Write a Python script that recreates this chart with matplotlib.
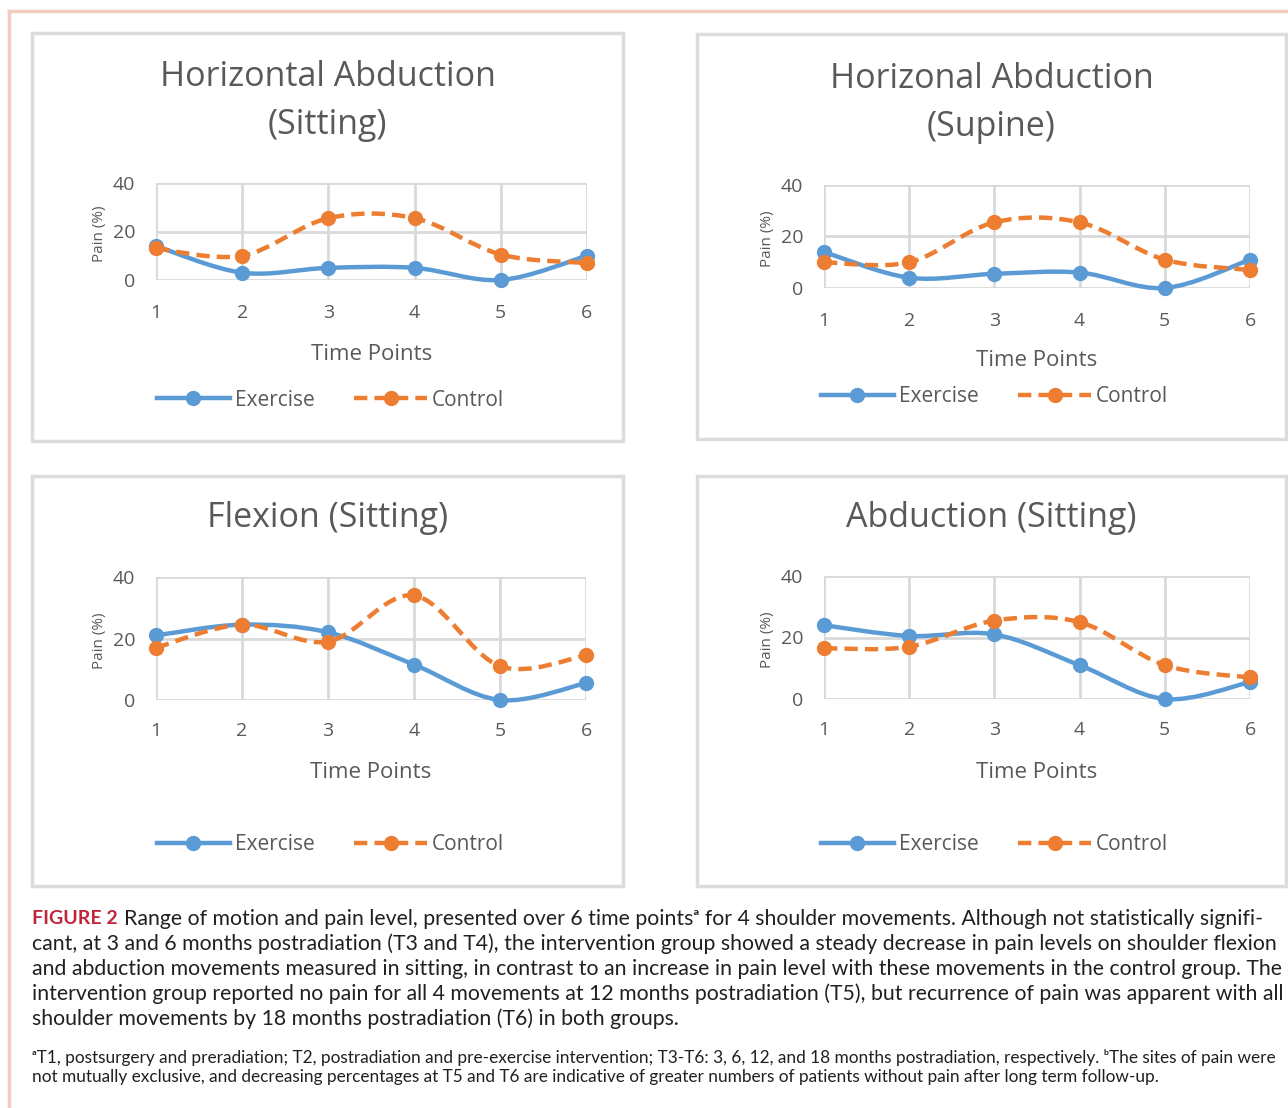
import numpy as np
import matplotlib
matplotlib.use("Agg")
import matplotlib.pyplot as plt
from matplotlib.path import Path
from matplotlib.patches import PathPatch, Rectangle
from matplotlib.lines import Line2D

# data (pain, %)
time_points = [1, 2, 3, 4, 5, 6]
titles = ["Horizontal Abduction\n(Sitting)", "Horizonal Abduction\n(Supine)",
          "Flexion (Sitting)", "Abduction (Sitting)"]
exercise_hs = [14, 3, 5, 5, 0, 10]
control_hs = [13, 10, 25.5, 25.5, 10.5, 7]
exercise_hsu = [14, 4, 5.5, 6, 0, 11]
control_hsu = [10, 10, 25.5, 25.5, 11, 7]
exercise_fl = [21, 24.5, 22, 11.5, 0, 5.5]
control_fl = [17, 24.5, 19, 34, 11, 14.5]
exercise_ab = [24, 20.5, 21, 11, 0, 5.5]
control_ab = [16.5, 17, 25.5, 25, 11, 7]

exercise = [exercise_hs, exercise_hsu, exercise_fl, exercise_ab]
control = [control_hs, control_hsu, control_fl, control_ab]

W, H = 1288, 1108
GRAY = "#595959"
BLUE = "#5B9BD5"
ORANGE = "#ED7D31"
GRID = "#d9d9d9"
FONT = "Open Sans"

fig = plt.figure(figsize=(W / 100, H / 100), dpi=100)


def fx(x):
    return x / W


def fy(y):
    return 1 - y / H


def smooth_path(xs, ys):
    # Excel-style smoothed line as cubic bezier segments
    pts = np.column_stack([xs, ys]).astype(float)
    verts = [pts[0]]
    codes = [Path.MOVETO]
    n = len(pts)
    for i in range(n - 1):
        p0 = pts[max(i - 1, 0)]
        p1 = pts[i]
        p2 = pts[i + 1]
        p3 = pts[min(i + 2, n - 1)]
        c1 = p1 + (p2 - p0) / 6
        c2 = p2 - (p3 - p1) / 6
        verts += [c1, c2, p2]
        codes += [Path.CURVE4] * 3
    return Path(verts, codes)


# page border
fig.add_artist(Line2D([fx(9), fx(9)], [fy(11), 0], color="#f2cbbf", lw=2.5))
fig.add_artist(Line2D([fx(9), 1], [fy(11), fy(11)], color="#f2cbbf", lw=2.5))

# panel layout in pixels: box, plot area, tick pads, text rows
panels = [
    dict(box=(32, 33, 623, 441), plot=(156, 183, 587, 280), title_y=(77, 125), xl_y=355, leg_y=400, xpad=17),
    dict(box=(697, 34, 1286, 439), plot=(824, 185, 1250, 288), title_y=(79, 127), xl_y=361, leg_y=397, xpad=17),
    dict(box=(32, 476, 623, 886), plot=(156, 577, 586, 700), title_y=(518,), xl_y=772, leg_y=845, xpad=16),
    dict(box=(697, 476, 1286, 886), plot=(824, 576, 1250, 699), title_y=(518,), xl_y=772, leg_y=845, xpad=16),
]

for k, p in enumerate(panels):
    x0, y0, x1, y1 = p["box"]
    fig.add_artist(Rectangle((fx(x0), fy(y1)), fx(x1 - x0), (y1 - y0) / H,
                             transform=fig.transFigure, fill=False,
                             edgecolor="#dcdcdc", lw=2.5))
    cx = (x0 + x1) / 2
    lines = titles[k].split("\n")
    for line, ty in zip(lines, p["title_y"]):
        fig.text(fx(cx), fy(ty), line, ha="center", va="center",
                 fontsize=24.5, color=GRAY, family=FONT)

    l, t, r, b = p["plot"]
    ax = fig.add_axes([fx(l), fy(b), (r - l) / W, (b - t) / H])
    ax.set_xlim(1, 6)
    ax.set_ylim(0, 40)
    ax.set_xticks(time_points)
    ax.set_yticks([0, 20, 40])
    ax.grid(True, color=GRID, lw=2)
    for s in ax.spines.values():
        s.set_visible(False)
    ax.tick_params(length=0, labelsize=14, labelcolor=GRAY)
    ax.tick_params(axis="y", pad=15)
    ax.tick_params(axis="x", pad=p["xpad"])
    for lab in ax.get_xticklabels() + ax.get_yticklabels():
        lab.set_family(FONT)

    ax.add_patch(PathPatch(smooth_path(time_points, exercise[k]), fill=False,
                           edgecolor=BLUE, lw=3.2, clip_on=False, zorder=3))
    ax.plot(time_points, exercise[k], ls="none", marker="o", ms=10,
            color=BLUE, clip_on=False, zorder=4)
    ax.add_patch(PathPatch(smooth_path(time_points, control[k]), fill=False,
                           edgecolor=ORANGE, lw=3.2, linestyle=(0, (3, 1.6)),
                           clip_on=False, zorder=5))
    ax.plot(time_points, control[k], ls="none", marker="o", ms=10,
            color=ORANGE, clip_on=False, zorder=6)

    # y label
    fig.text(fx(l - 56), fy((t + b) / 2 + 2), "Pain (%)", rotation=90,
             ha="center", va="center", fontsize=11, color=GRAY, family=FONT)
    # x label
    fig.text(fx((l + r) / 2), fy(p["xl_y"]), "Time Points", ha="center",
             va="center", fontsize=16, color=GRAY, family=FONT)

    h_ex = Line2D([], [], color=BLUE, lw=3.2, marker="o", ms=10)
    h_co = Line2D([], [], color=ORANGE, lw=3.2, ls=(0, (3, 1.6)), marker="o", ms=10)
    ax.legend([h_ex, h_co], ["Exercise", "Control"], ncol=2, frameon=False,
              loc="center", bbox_to_anchor=(fx(cx + 3), fy(p["leg_y"])),
              bbox_transform=fig.transFigure, handlelength=3.5,
              handletextpad=0.25, columnspacing=1.9,
              prop={"family": FONT, "size": 15}, labelcolor=GRAY)

# caption
CAP = ["Lato", "DejaVu Sans"]
fig.text(fx(32), fy(919), "FIGURE 2", ha="left", va="center", fontsize=14,
         color="#c0253a", fontweight="bold", family=CAP)
cap_lines = [
    "Range of motion and pain level, presented over 6 time points\u1d43 for 4 shoulder movements. Although not statistically signifi-",
    "cant, at 3 and 6 months postradiation (T3 and T4), the intervention group showed a steady decrease in pain levels on shoulder flexion",
    "and abduction movements measured in sitting, in contrast to an increase in pain level with these movements in the control group. The",
    "intervention group reported no pain for all 4 movements at 12 months postradiation (T5), but recurrence of pain was apparent with all",
    "shoulder movements by 18 months postradiation (T6) in both groups.",
]
cap_y = [919, 944, 969, 994, 1019]
for i, (txt, y) in enumerate(zip(cap_lines, cap_y)):
    xs = 124 if i == 0 else 32
    fig.text(fx(xs), fy(y), txt, ha="left", va="center", fontsize=15.3,
             color="#231f20", family=CAP)

foot = [
    "\u1d43T1, postsurgery and preradiation; T2, postradiation and pre-exercise intervention; T3-T6: 3, 6, 12, and 18 months postradiation, respectively. \u1d47The sites of pain were",
    "not mutually exclusive, and decreasing percentages at T5 and T6 are indicative of greater numbers of patients without pain after long term follow-up.",
]
for txt, y in zip(foot, [1057, 1077]):
    fig.text(fx(32), fy(y), txt, ha="left", va="center", fontsize=12.4,
             color="#231f20", family=CAP)

fig.savefig("out.png", dpi=100, facecolor="white")
